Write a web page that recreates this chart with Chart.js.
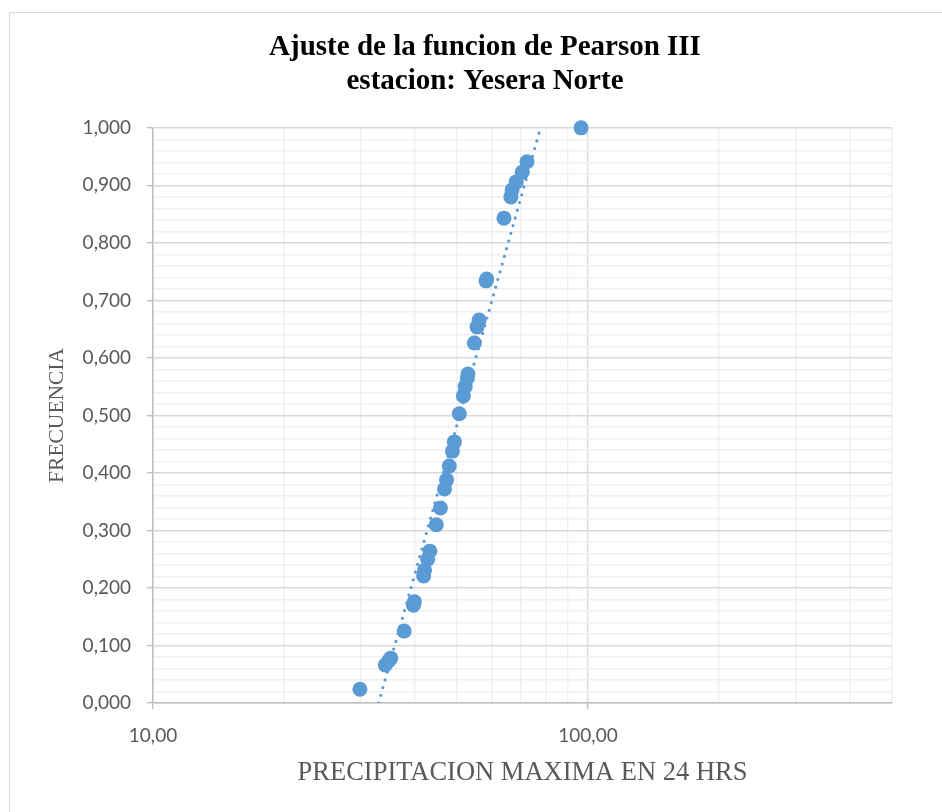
<!DOCTYPE html>
<html>
<head>
<meta charset="utf-8">
<script src="https://cdn.jsdelivr.net/npm/chart.js@4.4.0/dist/chart.umd.min.js"></script>
<style>
  html, body { margin: 0; padding: 0; background: #fff; }
</style>
</head>
<body>
<canvas id="grafico" width="942" height="812"></canvas>
<script>
// datos (precipitacion mm, frecuencia)
var precipitacion = [29.9, 34.2, 34.8, 35.2, 37.8, 39.7, 39.9, 41.9, 42.1, 42.8,
  43.3, 44.8, 45.8, 46.8, 47.3, 48.0, 48.8, 49.3, 50.6, 51.7,
  52.2, 52.8, 53.0, 54.8, 55.6, 56.2, 58.3, 58.5, 64.1, 66.5,
  66.9, 68.4, 70.6, 72.4, 96.4];
var frecuencia = [0.024, 0.066, 0.073, 0.078, 0.125, 0.170, 0.176, 0.221, 0.231, 0.250,
  0.264, 0.310, 0.339, 0.372, 0.388, 0.412, 0.438, 0.454, 0.503, 0.534,
  0.550, 0.565, 0.572, 0.626, 0.654, 0.666, 0.734, 0.737, 0.843, 0.880,
  0.892, 0.906, 0.923, 0.941, 1.000];

// linea de tendencia (extremos)
var ajusteX = [33.0, 77.8];
var ajusteY = [0, 1];

var ticksX = [10, 20, 30, 40, 50, 60, 70, 80, 90, 100, 200, 300, 400, 500];
var etiquetasX = [10, 100];

var azul = '#5b9bd5';

function esMayorY(v) {
  return Math.round(v * 50) % 5 === 0;
}

var marco = {
  id: 'marco',
  afterDraw: function(chart) {
    var c = chart.ctx;
    c.save();
    c.strokeStyle = '#d9d9d9';
    c.lineWidth = 1;
    c.strokeRect(9.5, 12.5, 1000, 1000);
    c.restore();
  }
};

var puntos = precipitacion.map(function(p, i) { return {x: p, y: frecuencia[i]}; });
var tendencia = ajusteX.map(function(p, i) { return {x: p, y: ajusteY[i]}; });

var chart = new Chart(document.getElementById('grafico'), {
  type: 'scatter',
  data: {
    datasets: [{
      label: 'Tendencia',
      data: tendencia,
      showLine: true,
      borderColor: azul,
      borderWidth: 3.2,
      borderDash: [0, 8],
      borderCapStyle: 'round',
      pointRadius: 0,
      order: 0
    }, {
      label: 'Frecuencia',
      data: puntos,
      backgroundColor: azul,
      borderWidth: 0,
      pointRadius: 7.5,
      pointHoverRadius: 7.5,
      clip: false,
      order: 1
    }]
  },
  options: {
    responsive: false,
    animation: false,
    layout: { padding: { left: 28, right: 0, top: 0, bottom: 0 } },
    plugins: {
      legend: { display: false },
      tooltip: { enabled: false },
      title: {
        display: true,
        text: ['Ajuste de la funcion de Pearson III', 'estacion: Yesera Norte'],
        color: '#000',
        font: { family: '"Liberation Serif", "Times New Roman", serif', size: 29, weight: 'bold', lineHeight: 1.17 },
        padding: { top: 31, bottom: 29 }
      }
    },
    scales: {
      x: {
        type: 'logarithmic',
        position: 'bottom',
        min: 10,
        max: 500,
        afterBuildTicks: function(s) {
          s.ticks = ticksX.map(function(v) { return {value: v}; });
        },
        afterFit: function(s) { s.height = 109; },
        ticks: {
          autoSkip: false,
          maxRotation: 0,
          padding: 15,
          color: '#595959',
          font: { family: 'Lato, "Open Sans", sans-serif', size: 19 },
          callback: function(v) {
            return etiquetasX.indexOf(v) >= 0 ? v.toFixed(2).replace('.', ',') : '';
          }
        },
        grid: {
          color: function(c) { return etiquetasX.indexOf(c.tick.value) >= 0 ? '#d9d9d9' : '#f0f0f0'; },
          lineWidth: 1.4,
          tickLength: 6,
          tickColor: function(c) { return etiquetasX.indexOf(c.tick.value) >= 0 ? '#bfbfbf' : 'rgba(0,0,0,0)'; }
        },
        border: { color: '#bfbfbf', width: 1.5 },
        title: {
          display: true,
          text: 'PRECIPITACION MAXIMA EN 24 HRS',
          color: '#595959',
          font: { family: '"Liberation Serif", "Times New Roman", serif', size: 26.5, lineHeight: 1.2 },
          padding: { top: 0, bottom: 23 }
        }
      },
      y: {
        min: 0,
        max: 1,
        afterFit: function(s) { s.width = 125; },
        ticks: {
          stepSize: 0.02,
          autoSkip: false,
          padding: 16,
          color: '#595959',
          font: { family: 'Lato, "Open Sans", sans-serif', size: 19 },
          callback: function(v) {
            return esMayorY(v) ? v.toFixed(3).replace('.', ',') : '';
          }
        },
        grid: {
          color: function(c) { return esMayorY(c.tick.value) ? '#d9d9d9' : '#f0f0f0'; },
          lineWidth: 1.4,
          tickLength: 6,
          tickColor: function(c) { return esMayorY(c.tick.value) ? '#bfbfbf' : 'rgba(0,0,0,0)'; }
        },
        border: { color: '#bfbfbf', width: 1.5 },
        title: {
          display: true,
          text: 'FRECUENCIA',
          color: '#595959',
          font: { family: '"Liberation Serif", "Times New Roman", serif', size: 21.5, lineHeight: 1.2 },
          padding: { top: 16, bottom: 0 }
        }
      },
      derecha: {
        type: 'linear',
        position: 'right',
        display: true,
        afterFit: function(s) { s.width = 50; },
        grid: { display: false, drawTicks: false },
        border: { display: false },
        ticks: { display: false }
      }
    }
  },
  plugins: [marco]
});
</script>
</body>
</html>
